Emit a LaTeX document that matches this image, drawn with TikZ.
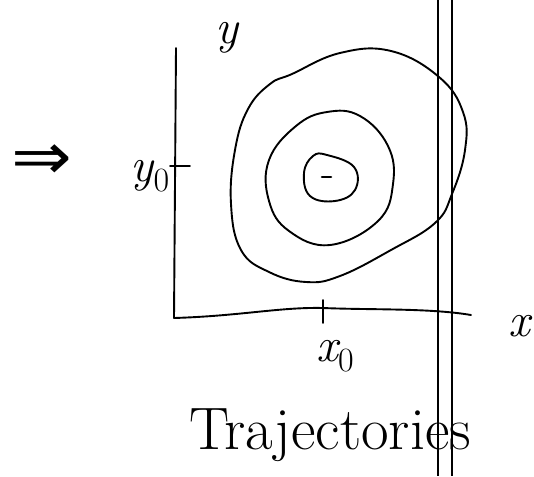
\documentclass[tikz,border=0pt]{standalone}
\usepackage{fontspec}
\newfontfamily\symfont{DejaVu Sans}
\usetikzlibrary{positioning}
\newcommand{\subidx}[1]{\raisebox{-0.22em}{\fontsize{34}{40}\selectfont\upshape #1}}
\begin{document}
\begin{tikzpicture}[
  x=1pt, y=-1pt,
  pen/.style={line width=1.9pt, line cap=round, line join=round},
  rule/.style={line width=1.6pt},
  lbl/.style={inner sep=0pt, font=\fontsize{48}{56}\selectfont\itshape}
]
\useasboundingbox (0,0) rectangle (534,476);
% implication sign
\node[inner sep=0pt, font=\fontsize{66}{70}\selectfont\symfont, xscale=1.1] (impl) at (42,162) {⇒};
% axes
\coordinate (ytop) at (176,48);
\coordinate (origin) at (174,318);
\coordinate (xmid) at (323,308);
\coordinate (xend) at (471,315);
\draw[pen] (ytop) -- (origin);
\draw[pen] (origin) .. controls (240,316) and (280,307) .. (xmid)
  .. controls (370,310) and (430,308) .. (xend);
% ticks
\coordinate (y0a) at (170,166);
\coordinate (y0b) at (190,166);
\coordinate (x0a) at (323,300);
\coordinate (x0b) at (323,323);
\draw[pen] (y0a) -- (y0b);
\draw[pen] (x0a) -- (x0b);
% labels
\node[lbl] (ylab) at (227,38) {y};
\node[lbl] (y0lab) at (150,176) {y\subidx{0}};
\node[lbl] (x0lab) at (335,356) {x\subidx{0}};
\node[lbl] (xlab) at (519,326) {x};
% trajectories
\draw[pen] plot[smooth cycle, tension=0.7] coordinates {
  (292,74) (340,53) (391,51) (439,77) (463,112) (465,150) (452,194)
  (435,223) (391,250) (340,276) (306,282) (269,272) (241,250)
  (231,204) (235,150) (248,109) (270,84)};
\draw[pen] plot[smooth cycle, tension=0.7] coordinates {
  (360,116) (388,146) (393,184) (378,221) (330,245) (289,231)
  (269,201) (269,160) (296,126) (327,112)};
\draw[pen] plot[smooth cycle, tension=0.7] coordinates {
  (327,155) (354,167) (355,190) (335,201) (310,196) (304,173) (313,156)};
\coordinate (fixa) at (322,177);
\coordinate (fixb) at (331,177);
\draw[pen, line width=2.6pt] (fixa) -- (fixb);
% double rule
\coordinate (ra1) at (438,0);
\coordinate (ra2) at (438,476);
\coordinate (rb1) at (452,0);
\coordinate (rb2) at (452,476);
\draw[rule] (ra1) -- (ra2);
\draw[rule] (rb1) -- (rb2);
% caption
\node[inner sep=0pt, font=\fontsize{60}{66}\selectfont, anchor=base] (caption) at (330,449) {Trajectories};
\end{tikzpicture}
\end{document}
